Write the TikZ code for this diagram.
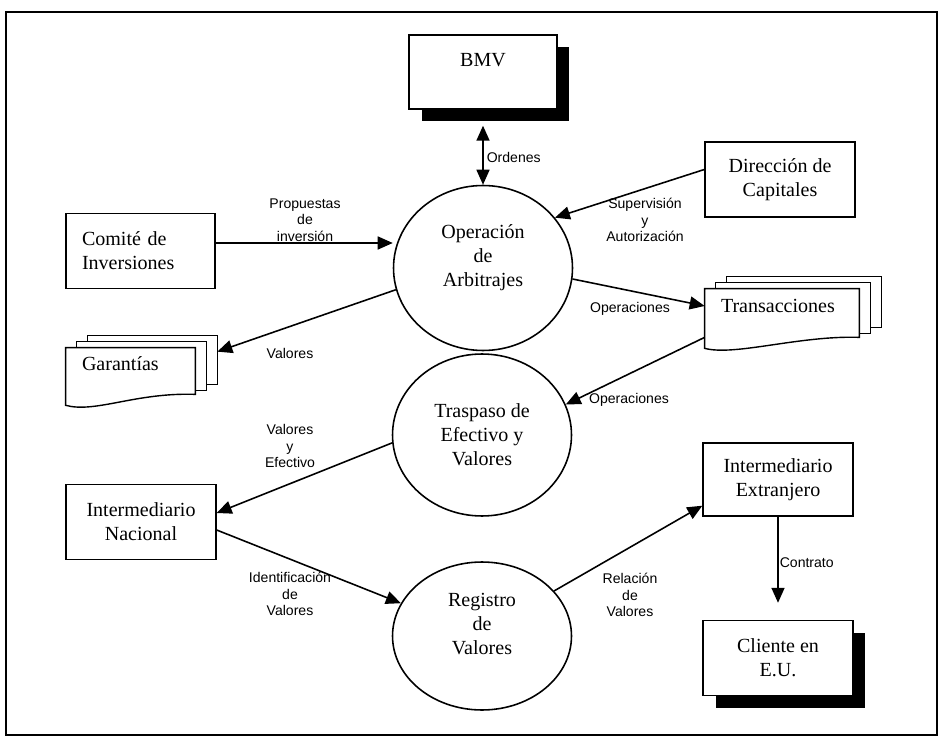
\documentclass[tikz,border=0pt]{standalone}
\usepackage{fontspec}
\setmainfont{Liberation Serif}
\newfontfamily\labelsans{Liberation Sans}
\usetikzlibrary{arrows.meta,shapes.geometric,shadows,backgrounds}

\tikzset{
  box/.style={draw, line width=0.8pt, fill=white, align=center, inner sep=0pt,
    minimum width=3cm, minimum height=1.5cm},
  shadowbox/.style={box, drop shadow={fill=black, opacity=1,
    shadow xshift=0.25cm, shadow yshift=-0.25cm}},
  proc/.style={draw, ellipse, line width=0.9pt, align=center, inner sep=0pt,
    minimum width=3.58cm},
  docsheet/.style={align=left, inner xsep=0.32cm, inner ysep=0pt,
    text height=0.22cm, text depth=0.38cm},
  tip/.style={Triangle[length=0.3cm,width=0.26cm]},
  flow/.style={line width=0.9pt, -{Triangle[length=0.3cm,width=0.26cm]}},
  flowboth/.style={line width=0.9pt,
    {Triangle[length=0.3cm,width=0.26cm]}-{Triangle[length=0.3cm,width=0.26cm]}},
  lbl/.style={font=\labelsans\fontsize{8}{9.3}\selectfont, align=center, inner sep=0pt}
}

% stack of three sheets behind a document node
\newcommand{\docstack}[1]{%
  \begin{scope}[on background layer]
    \draw[line width=0.8pt, fill=white] ([shift={(22,-12)}]#1.north west) rectangle ([shift={(22,-16)}]#1.south east);
    \draw[line width=0.8pt, fill=white] ([shift={(11,-6)}]#1.north west) rectangle ([shift={(11,-10)}]#1.south east);
    \draw[line width=0.8pt, fill=white] (#1.north west) -- (#1.north east) -- ([shift={(0,-6)}]#1.south east)
      .. controls +(-60,-2) and +(30,8) .. ([shift={(0,5)}]#1.south west) -- cycle;
  \end{scope}}

\begin{document}
\begin{tikzpicture}[x=0.02cm, y=-0.02cm, font=\fontsize{11.4}{13.7}\selectfont]
  \useasboundingbox (0,0) rectangle (942,739);
  % frame
  \draw[line width=0.9pt] (6,12) rectangle (937,735);

  % outside entities
  \node[shadowbox, minimum width=2.96cm, minimum height=1.48cm] (bmv) at (483,72) {BMV\\ \mbox{}};
  \node[box] (dir) at (780,179.5) {Dirección de\\Capitales};
  \node[box, align=left, text width=2.34cm, inner xsep=0.32cm, minimum width=2.98cm] (comite) at (140.5,251) {Comité de\\Inversiones};
  \node[box] (nac) at (141,522) {Intermediario\\Nacional};
  \node[box, minimum height=1.46cm] (ext) at (778,479.5) {Intermediario\\Extranjero};
  \node[shadowbox] (cli) at (778,658) {Cliente en\\E.U.};

  % processes
  \node[proc, minimum height=3.3cm] (op) at (483,268) {Operación\\de\\Arbitrajes\\ \mbox{}};
  \node[proc, minimum height=3.24cm] (tra) at (482,435) {Traspaso de\\Efectivo y\\Valores};
  \node[proc, minimum height=2.96cm] (reg) at (482,636) {Registro\\de\\Valores\\ \mbox{}};

  % documents
  \node[docsheet, text width=1.94cm, minimum height=1.04cm] (gar) at (130.5,374) {Garantías};
  \node[docsheet, text width=2.44cm, minimum height=1.08cm] (trans) at (782,316) {Transacciones};
  \docstack{gar}
  \docstack{trans}

  % flows
  \coordinate (prop) at ([shift={(0,-8)}]comite.east);
  \draw[flowboth] ([shift={(0,16)}]bmv.south) -- (op.north)
    node[lbl, anchor=west] at (486,157) {Ordenes};
  \draw[flow] ([shift={(0,-10)}]dir.west) -- (op.35)
    node[lbl] at (645,220) {Supervisión\\y\\Autorización};
  \draw[flow] (prop) -- (prop -| op.west)
    node[lbl] at (305,220) {Propuestas\\de\\inversión};
  \draw[flow] (op.194) -- ([shift={(22,4)}]gar.north east)
    node[lbl] at (290,353) {Valores};
  \draw[flow] (op.-7) -- ([shift={(0,-10)}]trans.west)
    node[lbl] at (630,309) {Operaciones};
  \draw[flow] ([shift={(0,-6)}]trans.south west) -- (tra.20)
    node[lbl] at (629,400) {Operaciones};
  \draw[flow] (tra.185) -- ([shift={(0,-9)}]nac.east)
    node[lbl] at (290,446) {Valores\\y\\Efectivo};
  \draw[flow] ([shift={(0,8)}]nac.east) -- (reg.158)
    node[lbl] at (290,594) {Identificación\\de\\Valores};
  \draw[flow] (reg.32) -- ([shift={(0,-11)}]ext.south west)
    node[lbl] at (630,595) {Relación\\de\\Valores};
  \draw[flow] (ext.south) -- ([shift={(0,-17)}]cli.north)
    node[lbl, anchor=west] at (779,563) {Contrato};
\end{tikzpicture}
\end{document}
